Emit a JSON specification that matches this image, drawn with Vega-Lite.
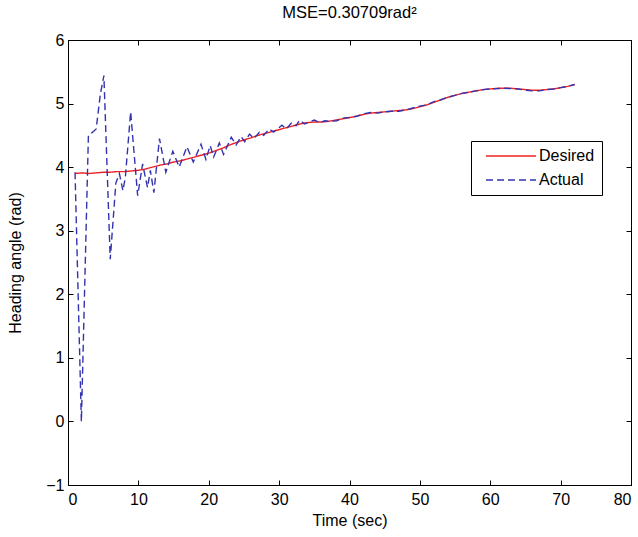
{
  "$schema": "https://vega.github.io/schema/vega-lite/v6.json",
  "width": 563,
  "height": 445,
  "autosize": "none",
  "padding": {"left": 68, "top": 40, "right": 7, "bottom": 52},
  "background": "white",
  "title": {"text": "MSE=0.30709rad²", "fontSize": 16.5, "font": "Liberation Sans", "fontWeight": "normal", "color": "black", "offset": 11},
  "config": {
    "view": {"stroke": "black", "strokeWidth": 1},
    "axis": {
      "grid": false,
      "labelFont": "Liberation Sans",
      "labelFontSize": 16,
      "labelColor": "black",
      "titleFont": "Liberation Sans",
      "titleFontSize": 16,
      "titleFontWeight": "normal",
      "titleColor": "black",
      "tickColor": "black",
      "tickSize": -5,
      "domainColor": "black"
    },
    "legend": {
      "labelFont": "Liberation Sans",
      "labelFontSize": 16,
      "labelColor": "black"
    }
  },
  "datasets": {
    "desired": [
      {"t": 1, "y": 3.9}, {"t": 2, "y": 3.91}, {"t": 3, "y": 3.9}, {"t": 4, "y": 3.91}, {"t": 5, "y": 3.92},
      {"t": 6, "y": 3.92}, {"t": 7, "y": 3.93}, {"t": 8, "y": 3.93}, {"t": 9, "y": 3.94}, {"t": 10, "y": 3.95},
      {"t": 11, "y": 3.97}, {"t": 12, "y": 4.0}, {"t": 13, "y": 4.03}, {"t": 14, "y": 4.05}, {"t": 15, "y": 4.08},
      {"t": 16, "y": 4.1}, {"t": 17, "y": 4.13}, {"t": 18, "y": 4.16}, {"t": 19, "y": 4.19}, {"t": 20, "y": 4.22},
      {"t": 21, "y": 4.26}, {"t": 22, "y": 4.3}, {"t": 23, "y": 4.35}, {"t": 24, "y": 4.39}, {"t": 25, "y": 4.43},
      {"t": 26, "y": 4.46}, {"t": 27, "y": 4.5}, {"t": 28, "y": 4.53}, {"t": 29, "y": 4.56}, {"t": 30, "y": 4.59},
      {"t": 31, "y": 4.62}, {"t": 32, "y": 4.65}, {"t": 33, "y": 4.68}, {"t": 34, "y": 4.7}, {"t": 35, "y": 4.71},
      {"t": 36, "y": 4.71}, {"t": 37, "y": 4.72}, {"t": 38, "y": 4.74}, {"t": 39, "y": 4.76}, {"t": 40, "y": 4.78},
      {"t": 41, "y": 4.8}, {"t": 42, "y": 4.83}, {"t": 43, "y": 4.85}, {"t": 44, "y": 4.86}, {"t": 45, "y": 4.87},
      {"t": 46, "y": 4.88}, {"t": 47, "y": 4.89}, {"t": 48, "y": 4.9}, {"t": 49, "y": 4.92}, {"t": 50, "y": 4.95},
      {"t": 51, "y": 4.98}, {"t": 52, "y": 5.02}, {"t": 53, "y": 5.06}, {"t": 54, "y": 5.1}, {"t": 55, "y": 5.13},
      {"t": 56, "y": 5.16}, {"t": 57, "y": 5.18}, {"t": 58, "y": 5.2}, {"t": 59, "y": 5.22}, {"t": 60, "y": 5.23},
      {"t": 61, "y": 5.24}, {"t": 62, "y": 5.24}, {"t": 63, "y": 5.24}, {"t": 64, "y": 5.23}, {"t": 65, "y": 5.22},
      {"t": 66, "y": 5.21}, {"t": 67, "y": 5.21}, {"t": 68, "y": 5.22}, {"t": 69, "y": 5.23}, {"t": 70, "y": 5.25},
      {"t": 71, "y": 5.27}, {"t": 72, "y": 5.3}
    ],
    "actual": [
      {"t": 1.0, "y": 3.92}, {"t": 1.9, "y": 0.0}, {"t": 2.9, "y": 4.5}, {"t": 3.5, "y": 4.55}, {"t": 4.0, "y": 4.6},
      {"t": 4.6, "y": 5.15}, {"t": 5.1, "y": 5.44}, {"t": 6.0, "y": 2.55}, {"t": 6.8, "y": 3.75}, {"t": 7.3, "y": 3.9},
      {"t": 7.8, "y": 3.63}, {"t": 8.15, "y": 3.84}, {"t": 8.9, "y": 4.87}, {"t": 9.9, "y": 3.55}, {"t": 10.6, "y": 4.05},
      {"t": 11.3, "y": 3.68}, {"t": 11.7, "y": 3.95}, {"t": 12.2, "y": 3.6}, {"t": 13.0, "y": 4.45}, {"t": 13.9, "y": 3.92},
      {"t": 14.9, "y": 4.25}, {"t": 15.8, "y": 4.0}, {"t": 16.9, "y": 4.32}, {"t": 17.8, "y": 4.08}, {"t": 18.9, "y": 4.36},
      {"t": 19.6, "y": 4.12}, {"t": 20.2, "y": 4.34}, {"t": 20.7, "y": 4.16}, {"t": 21.5, "y": 4.38}, {"t": 22.1, "y": 4.2},
      {"t": 23.2, "y": 4.47}, {"t": 23.9, "y": 4.35}, {"t": 24.6, "y": 4.48}, {"t": 25.1, "y": 4.4}, {"t": 25.8, "y": 4.52},
      {"t": 26.4, "y": 4.45}, {"t": 27.2, "y": 4.55}, {"t": 27.8, "y": 4.5}, {"t": 28.6, "y": 4.6}, {"t": 29.2, "y": 4.55},
      {"t": 30.4, "y": 4.66}, {"t": 31.0, "y": 4.6}, {"t": 31.8, "y": 4.7}, {"t": 32.4, "y": 4.65}, {"t": 32.9, "y": 4.74},
      {"t": 33.6, "y": 4.68}, {"t": 35.0, "y": 4.74}, {"t": 35.8, "y": 4.7}, {"t": 36.5, "y": 4.73}, {"t": 37.2, "y": 4.72},
      {"t": 38.2, "y": 4.73}, {"t": 39, "y": 4.77}, {"t": 40, "y": 4.78}, {"t": 41, "y": 4.8}, {"t": 42, "y": 4.84},
      {"t": 43, "y": 4.86}, {"t": 44, "y": 4.85}, {"t": 45, "y": 4.87}, {"t": 46, "y": 4.88}, {"t": 47, "y": 4.88},
      {"t": 48, "y": 4.9}, {"t": 49, "y": 4.93}, {"t": 50, "y": 4.96}, {"t": 51, "y": 4.98}, {"t": 52, "y": 5.03},
      {"t": 53, "y": 5.06}, {"t": 54, "y": 5.1}, {"t": 55, "y": 5.13}, {"t": 56, "y": 5.16}, {"t": 57, "y": 5.18},
      {"t": 58, "y": 5.2}, {"t": 59, "y": 5.22}, {"t": 60, "y": 5.23}, {"t": 62, "y": 5.24}, {"t": 64, "y": 5.23},
      {"t": 65, "y": 5.21}, {"t": 66, "y": 5.2}, {"t": 67, "y": 5.2}, {"t": 68, "y": 5.22}, {"t": 69, "y": 5.23},
      {"t": 70, "y": 5.25}, {"t": 71, "y": 5.27}, {"t": 72, "y": 5.3}
    ]
  },
  "layer": [
    {
      "data": {"name": "desired"},
      "transform": [{"calculate": "'Desired'", "as": "series"}],
      "mark": {"type": "line", "strokeWidth": 1.4},
      "encoding": {
        "x": {"field": "t", "type": "quantitative", "scale": {"domain": [0, 80], "nice": false},
              "axis": {"orient": "bottom", "values": [0, 10, 20, 30, 40, 50, 60, 70, 80], "title": "Time (sec)", "labelPadding": 11, "titlePadding": 5}},
        "y": {"field": "y", "type": "quantitative", "scale": {"domain": [-1, 6], "nice": false, "zero": false},
              "axis": {"orient": "left", "values": [-1, 0, 1, 2, 3, 4, 5, 6], "title": "Heading angle (rad)", "labelPadding": 9, "titlePadding": 22}},
        "color": {"field": "series", "type": "nominal",
                  "scale": {"domain": ["Desired", "Actual"], "range": ["#ee2222", "#3333b0"]},
                  "legend": {"orient": "none", "legendX": 403, "legendY": 101, "title": null,
                             "strokeColor": "black", "fillColor": "white", "padding": 7,
                             "symbolType": "M0,0H10", "symbolSize": 100, "symbolStrokeWidth": 1.4,
                             "labelOffset": 45, "rowPadding": 8}},
        "strokeDash": {"field": "series", "type": "nominal",
                       "scale": {"domain": ["Desired", "Actual"], "range": [[1, 0], [7, 4]]},
                       "legend": {"orient": "none", "legendX": 403, "legendY": 101, "title": null,
                                  "strokeColor": "black", "fillColor": "white", "padding": 7,
                                  "symbolType": "M0,0H10", "symbolSize": 100, "symbolStrokeWidth": 1.4,
                                  "labelOffset": 45, "rowPadding": 8}}
      }
    },
    {
      "data": {"name": "actual"},
      "transform": [{"calculate": "'Actual'", "as": "series"}],
      "mark": {"type": "line", "strokeWidth": 1.4},
      "encoding": {
        "x": {"field": "t", "type": "quantitative",
              "axis": {"orient": "top", "values": [0, 10, 20, 30, 40, 50, 60, 70, 80], "title": null, "labels": false}},
        "y": {"field": "y", "type": "quantitative",
              "axis": {"orient": "right", "values": [-1, 0, 1, 2, 3, 4, 5, 6], "title": null, "labels": false}},
        "color": {"field": "series", "type": "nominal"},
        "strokeDash": {"field": "series", "type": "nominal"}
      }
    }
  ],
  "resolve": {"axis": {"x": "independent", "y": "independent"}}
}
